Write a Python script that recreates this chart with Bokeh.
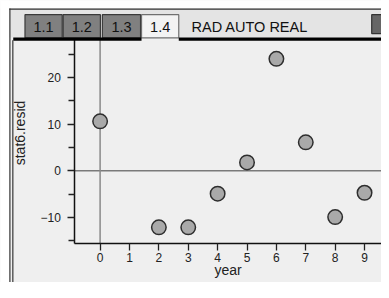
from bokeh.plotting import figure
from bokeh.models import Range1d, FixedTicker, ColumnDataSource, LinearAxis
from bokeh.core.properties import value
from bokeh.embed import file_html
from bokeh.resources import INLINE

# ---- data ----
years = [0, 2, 3, 4, 5, 6, 7, 8, 9]
resid = [10.6, -12.1, -12.1, -4.9, 1.8, 24.0, 6.1, -9.9, -4.7]
x_ticks = [0, 1, 2, 3, 4, 5, 6, 7, 8, 9]
y_ticks = [-10, 0, 10, 20]
y_minor = [-15, -5, 5, 15, 25]
tab_labels = ["1.1", "1.2", "1.3", "1.4"]
status_text = "RAD AUTO REAL"
x_label = "year"
y_label = "stat6.resid"

FONT = "Liberation Sans"
BG = "#efefef"
HEAD = "#e4e4e4"
INK = "#222222"

# screen layout (reference pixel grid 389 x 298)
SW, SH = 389, 298
X0, X1 = -0.857, 9.577      # x-axis extent
Y0, Y1 = -15.61, 31.8       # y-axis extent (top hidden under tab bar)

p = figure(width=381, height=282,
           x_range=Range1d(-3.39, 9.577), y_range=Range1d(-23.92, 36.49),
           x_axis_type=None, y_axis_type=None,
           output_backend="svg", toolbar_location=None, min_border=0)
p.background_fill_color = BG
p.border_fill_color = BG
p.outline_line_color = None
p.grid.visible = False

p.extra_x_ranges = {"px": Range1d(0, SW)}
p.extra_y_ranges = {"py": Range1d(SH, 0)}

xaxis = LinearAxis(fixed_location=Y0, bounds=(X0, X1),
                   ticker=FixedTicker(ticks=x_ticks), axis_label=x_label)
yaxis = LinearAxis(fixed_location=X0, bounds=(Y0, Y1),
                   ticker=FixedTicker(ticks=y_ticks, minor_ticks=y_minor), axis_label=y_label)
yaxis.major_label_overrides = {-10: "\u221210"}
for ax in (xaxis, yaxis):
    ax.axis_line_color = "#111111"
    ax.axis_line_width = 1.5
    ax.major_tick_line_color = INK
    ax.major_tick_line_width = 1.3
    ax.minor_tick_line_color = INK
    ax.minor_tick_line_width = 1.3
    ax.major_tick_in = 0
    ax.major_tick_out = 7
    ax.minor_tick_in = 0
    ax.minor_tick_out = 6
    ax.major_label_text_font = FONT
    ax.major_label_text_font_size = "12px"
    ax.major_label_text_color = INK
    ax.axis_label_text_font = FONT
    ax.axis_label_text_font_size = "14px"
    ax.axis_label_text_font_style = "normal"
    ax.axis_label_text_color = INK
xaxis.major_label_standoff = 2
xaxis.axis_label_standoff = -3
yaxis.major_label_standoff = 7
yaxis.axis_label_standoff = 9
p.add_layout(xaxis, "below")
p.add_layout(yaxis, "left")

# zero reference lines
p.segment(x0=[X0], y0=[0], x1=[X1], y1=[0], line_color="#7a7a7a", line_width=1.5)
p.segment(x0=[0], y0=[Y0], x1=[0], y1=[Y1], line_color="#8a8a8a", line_width=1.5)

src = ColumnDataSource(dict(x=years, y=resid))
p.scatter("x", "y", source=src, size=14.5, fill_color="#a9a9a9", line_color="#2e2e2e",
          line_width=1.5)

# ---- calculator tab bar, drawn on the screen pixel grid ----
kw = dict(x_range_name="px", y_range_name="py", level="overlay")
# white surround
p.quad(left=[0, 0], right=[SW, 9], top=[0, 0], bottom=[8.5, SH], fill_color="#ffffff",
       line_color=None, **kw)
p.quad(left=[9], right=[SW], top=[8.5], bottom=[39], fill_color=HEAD, line_color=None, **kw)
tab_left = [25, 64, 104, 144]
tab_right = [63, 102, 143, 182]
tab_fill = ["#808080", "#808080", "#808080", "#f3f3f3"]
tab_line = ["#3a3a3a", "#3a3a3a", "#3a3a3a", "#707070"]
p.quad(left=tab_left, right=tab_right, top=[15] * 4, bottom=[39.5] * 4,
       fill_color=tab_fill, line_color=tab_line, line_width=1.2, **kw)
p.text(x=[(a + b) / 2 for a, b in zip(tab_left, tab_right)], y=[28.5] * 4, text=tab_labels,
       text_align="center", text_baseline="middle", text_font=value(FONT),
       text_font_size="14.5px", text_color="#111111", **kw)
p.text(x=[195], y=[28.5], text=[status_text], text_align="left", text_baseline="middle",
       text_font=value(FONT), text_font_size="14.5px", text_color="#111111", **kw)
p.quad(left=[13, 182], right=[144, SW], top=[39, 39], bottom=[42.5, 42.5],
       fill_color="#000000", line_color=None, **kw)
p.quad(left=[379], right=[SW + 6], top=[15], bottom=[35], fill_color="#666666",
       line_color="#333333", line_width=1.2, **kw)
p.quad(left=[9], right=[SW], top=[8.5], bottom=[9.7], fill_color="#333333", line_color=None, **kw)
p.quad(left=[9, 12], right=[10.2, 13.2], top=[8.5, 42], bottom=[SH, SH],
       fill_color="#333333", line_color=None, **kw)

open("out.html", "w").write(file_html(p, INLINE))
